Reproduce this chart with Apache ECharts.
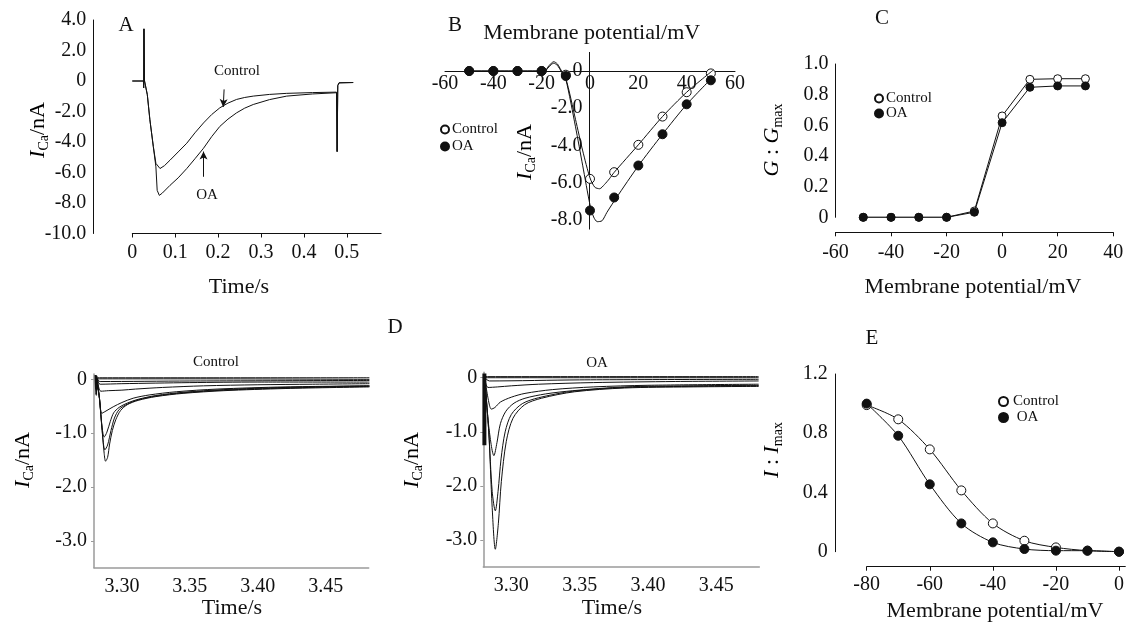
<!DOCTYPE html>
<html>
<head>
<meta charset="utf-8">
<script src="https://cdn.jsdelivr.net/npm/echarts@6.0.0/dist/echarts.min.js"></script>
<style>
  html, body { margin: 0; padding: 0; background: #fff; }
  #chart { width: 1127px; height: 626px; }
</style>
</head>
<body>
<div id="chart"></div>
<script>
// ---- A: current traces (time/s, nA)
var traceA_control = [[0,0],[0.026,0],[0.0265,-0.45],[0.0272,3.42],[0.0285,0],[0.035,-0.9],[0.041,-2.54],[0.049,-4.3],[0.055,-5.4],
  [0.0646,-5.74],[0.075,-5.55],[0.088,-5.19],[0.107,-4.65],[0.127,-4.08],[0.146,-3.4],[0.166,-2.75],[0.185,-2.2],[0.204,-1.76],
  [0.223,-1.45],[0.243,-1.21],[0.262,-1.08],[0.282,-0.99],[0.32,-0.88],[0.36,-0.81],[0.42,-0.76],[0.476,-0.73],
  [0.4775,-4.63],[0.479,-0.3],[0.482,-0.12],[0.515,-0.1]];
var traceA_oa = [[0,0],[0.026,0],[0.0265,-0.45],[0.0272,3.42],[0.0285,0],[0.035,-0.9],[0.041,-2.54],[0.049,-4.3],[0.055,-5.63],
  [0.058,-7.17],[0.063,-7.5],[0.07,-7.35],[0.088,-6.84],[0.107,-6.35],[0.127,-5.74],[0.146,-5.1],[0.166,-4.41],[0.185,-3.65],
  [0.204,-2.98],[0.223,-2.5],[0.243,-2.09],[0.262,-1.78],[0.282,-1.54],[0.32,-1.22],[0.36,-0.99],[0.42,-0.85],[0.476,-0.77],
  [0.4775,-4.63],[0.479,-0.3],[0.482,-0.12],[0.515,-0.1]];
var ticksA_x = [0, 0.1, 0.2, 0.3, 0.4, 0.5];

// ---- B: I-V relation (mV, nA)
var potB = [-50, -40, -30, -20, -10, 0, 10, 20, 30, 40, 50];
var ivControl = [0, 0, 0, 0, -0.2, -5.8, -5.44, -3.97, -2.45, -1.14, -0.13];
var ivOA = [0, 0, 0, 0, -0.27, -7.5, -6.8, -5.08, -3.4, -1.79, -0.5];
var fitB_control = [[-50,0],[-30,0],[-22,0],[-20.5,-0.2],[-19,-0.1],[-17.5,0.15],[-16,0.35],[-15,0.42],[-13.5,0.3],[-12,0.0],
  [-10,-0.4],[-6,-2.6],[-3,-4.3],[0,-5.75],[2,-6.25],[4,-6.33],[6,-6.1],[8,-5.8],[10,-5.45],[20,-3.97],[30,-2.45],[40,-1.14],[51,0.05]];
var fitB_oa = [[-50,0],[-30,0],[-22,0],[-20.5,-0.2],[-19,-0.1],[-17.5,0.2],[-16,0.42],[-15,0.5],[-13.5,0.38],[-12,0.05],
  [-10,-0.45],[-6,-3.0],[-3,-5.1],[0,-7.2],[1.5,-7.85],[3,-8.1],[5,-8.05],[7,-7.6],[11,-6.8],[20,-5.1],[30,-3.4],[40,-1.8],[51,-0.3]];
var ticksB_y = [0, -2, -4, -6, -8];

// ---- C: activation G/Gmax
var potC = [-50, -40, -30, -20, -10, 0, 10, 20, 30];
var gControl = [0, 0, 0, 0, 0.041, 0.661, 0.9, 0.904, 0.904];
var gOA = [0, 0, 0, 0, 0.033, 0.617, 0.848, 0.857, 0.857];

// ---- D: families of currents (s, nA)
var ticksD_x = [3.30, 3.35, 3.40, 3.45];
var ticksD_y = [0, -1, -2, -3];
var dControlArtifact = [[3.2806,0.08],[3.2811,-0.29],[3.2815,0.06],[3.2819,-0.18],[3.2822,0]];
var dControl1 = [[3.2815,0.02],[3.2835,-0.35],[3.2855,-0.95],[3.287,-1.38],[3.288,-1.52],[3.2895,-1.45],[3.291,-1.2],[3.293,-0.95],
  [3.2955,-0.75],[3.299,-0.58],[3.304,-0.47],[3.312,-0.39],[3.325,-0.32],[3.345,-0.26],[3.375,-0.21],[3.42,-0.17],[3.482,-0.14]];
var dControl2 = [[3.2815,0.02],[3.2835,-0.35],[3.2855,-0.95],[3.2875,-1.31],[3.2895,-1.22],[3.292,-0.95],[3.2945,-0.72],[3.298,-0.56],
  [3.304,-0.46],[3.312,-0.38],[3.325,-0.31],[3.345,-0.25],[3.375,-0.2],[3.42,-0.16],[3.482,-0.13]];
var dControl3 = [[3.2815,0.02],[3.2835,-0.35],[3.2855,-0.9],[3.287,-1.07],[3.289,-0.98],[3.2915,-0.78],[3.294,-0.62],[3.298,-0.52],
  [3.304,-0.44],[3.312,-0.37],[3.325,-0.3],[3.345,-0.24],[3.375,-0.19],[3.42,-0.15],[3.482,-0.12]];
var dControl4 = [[3.2815,0.02],[3.2835,-0.35],[3.2852,-0.63],[3.2875,-0.6],[3.2936,-0.51],[3.30,-0.43],[3.3083,-0.35],[3.32,-0.29],
  [3.34,-0.23],[3.37,-0.18],[3.42,-0.14],[3.482,-0.12]];
var dControl5 = [[3.2815,0.02],[3.283,-0.15],[3.2845,-0.22],[3.29,-0.21],[3.30,-0.2],[3.31,-0.18],[3.33,-0.15],[3.36,-0.12],
  [3.40,-0.1],[3.44,-0.09],[3.482,-0.08]];
var dControl6 = [[3.2815,0],[3.284,-0.09],[3.30,-0.08],[3.35,-0.06],[3.40,-0.05],[3.482,-0.05]];
var dControl7 = [[3.2815,0],[3.284,-0.04],[3.35,-0.03],[3.482,-0.02]];
var dControl8 = [[3.2815,0.01],[3.35,0.01],[3.482,0.0]];
var dControl9 = [[3.2815,0.03],[3.35,0.03],[3.482,0.03]];

var dOAArtifact = [[3.2803,0.08],[3.2803,-1.25]];
var dOA1 = [[3.2805,0],[3.2835,-1.0],[3.286,-2.4],[3.2883,-3.17],[3.2905,-2.7],[3.2927,-1.92],[3.2963,-1.18],[3.3012,-0.75],
  [3.3097,-0.5],[3.322,-0.38],[3.3463,-0.26],[3.383,-0.19],[3.43,-0.17],[3.481,-0.16]];
var dOA2 = [[3.2805,0],[3.2835,-1.0],[3.286,-2.1],[3.2883,-2.46],[3.2903,-2.1],[3.2925,-1.5],[3.2955,-1.0],[3.30,-0.68],
  [3.308,-0.48],[3.32,-0.37],[3.345,-0.25],[3.383,-0.18],[3.43,-0.16],[3.481,-0.15]];
var dOA3 = [[3.2805,0],[3.2835,-0.9],[3.2873,-1.44],[3.2895,-1.2],[3.292,-0.85],[3.296,-0.62],[3.302,-0.47],[3.31,-0.38],
  [3.325,-0.3],[3.345,-0.24],[3.383,-0.17],[3.43,-0.15],[3.481,-0.14]];
var dOA4 = [[3.2805,0],[3.2835,-0.45],[3.2854,-0.58],[3.288,-0.55],[3.292,-0.45],[3.30,-0.36],[3.31,-0.29],[3.33,-0.22],
  [3.36,-0.17],[3.40,-0.14],[3.481,-0.12]];
var dOA5 = [[3.2805,0],[3.2829,-0.18],[3.29,-0.17],[3.30,-0.15],[3.32,-0.12],[3.36,-0.09],[3.42,-0.07],[3.481,-0.06]];
var dOA6 = [[3.2805,0],[3.284,-0.06],[3.35,-0.04],[3.481,-0.03]];
var dOA7 = [[3.2805,0],[3.35,0],[3.481,0]];
var dOA8 = [[3.2805,0.02],[3.35,0.02],[3.481,0.02]];

// ---- E: inactivation I/Imax
var potE = [-80, -70, -60, -50, -40, -30, -20, -10, 0];
var iControl = [0.99, 0.894, 0.691, 0.414, 0.191, 0.074, 0.029, 0.007, 0];
var iOA = [1.0, 0.783, 0.455, 0.191, 0.063, 0.018, 0.007, 0.007, 0];
var ticksE_x = [-80, -60, -40, -20, 0];

var SERIF = '"Liberation Serif", "Times New Roman", serif';
var INK = '#111';
var GREY = '#9a9a9a';

function zip(xs, ys) {
  var r = [];
  for (var i = 0; i < xs.length; i++) r.push([xs[i], ys[i]]);
  return r;
}
function fmt1(v) { return v === 0 ? '0' : v.toFixed(1); }

var labelStyle = { fontFamily: SERIF, fontSize: 20, color: INK };
var rich = {
  i: { fontFamily: SERIF, fontStyle: 'italic', fontSize: 22, lineHeight: 26, color: INK },
  r: { fontFamily: SERIF, fontSize: 22, lineHeight: 26, color: INK },
  s: { fontFamily: SERIF, fontSize: 14, lineHeight: 26, verticalAlign: 'bottom', color: INK }
};

function txt(x, y, s, size, rot) {
  return {
    type: 'text', x: x, y: y, rotation: rot || 0, silent: true,
    style: { text: s, fontFamily: SERIF, fontSize: size, fill: INK, align: 'center', verticalAlign: 'middle' }
  };
}
function richTxt(x, y, s, rot) {
  return {
    type: 'text', x: x, y: y, rotation: rot || 0, silent: true,
    style: { text: s, rich: rich, align: 'center', verticalAlign: 'middle' }
  };
}

var openSym = { color: '#fff', borderColor: INK, borderWidth: 1, opacity: 1 };
var fillSym = { color: INK, borderColor: INK, borderWidth: 1, opacity: 1 };
var thin = { color: INK, width: 1 };

function trace(name, data, xi, w) {
  return {
    name: name, type: 'line', xAxisIndex: xi, yAxisIndex: xi, data: data,
    showSymbol: false, smooth: 0.3, silent: true,
    lineStyle: { color: INK, width: w || 1 }
  };
}

var chart = echarts.init(document.getElementById('chart'), null, { renderer: 'canvas' });

var axisBase = function (gi) {
  return {
    type: 'value', gridIndex: gi, splitLine: { show: false },
    axisLine: { onZero: false, lineStyle: { color: INK, width: 1 } },
    axisLabel: labelStyle
  };
};

var option = {
  animation: false,
  backgroundColor: '#fff',
  grid: [
    { left: 132.3, top: 20, width: 248.8, height: 213.5 },
    { left: 445, top: 52.4, width: 290, height: 176.7 },
    { left: 835.5, top: 64, width: 277.7, height: 153.3 },
    { left: 94, top: 374, width: 274.7, height: 193.7 },
    { left: 483.3, top: 372.3, width: 276, height: 194.8 },
    { left: 866.7, top: 374, width: 259.7, height: 177.7 }
  ],
  xAxis: [
    Object.assign(axisBase(0), {
      min: 0, max: 0.58,
      axisTick: { show: true, length: 4, customValues: ticksA_x, lineStyle: { color: INK } },
      axisLabel: Object.assign({}, labelStyle, { margin: 9, customValues: ticksA_x, formatter: fmt1 })
    }),
    Object.assign(axisBase(1), {
      min: -60, max: 60, interval: 20, offset: -158.1,
      axisTick: { show: false },
      axisLabel: Object.assign({}, labelStyle, { margin: 3 })
    }),
    Object.assign(axisBase(2), {
      min: -60, max: 40, interval: 20, offset: 15,
      axisTick: { show: true, length: 4, lineStyle: { color: INK } },
      axisLabel: Object.assign({}, labelStyle, { margin: 10 })
    }),
    Object.assign(axisBase(3), {
      min: 3.2795, max: 3.4815,
      axisLine: { onZero: false, lineStyle: { color: GREY, width: 1.5 } },
      axisTick: { show: false },
      axisLabel: Object.assign({}, labelStyle, { margin: 9, customValues: ticksD_x, formatter: function (v) { return v.toFixed(2); } })
    }),
    Object.assign(axisBase(4), {
      min: 3.2795, max: 3.4815,
      axisLine: { onZero: false, lineStyle: { color: GREY, width: 1.5 } },
      axisTick: { show: false },
      axisLabel: Object.assign({}, labelStyle, { margin: 9, customValues: ticksD_x, formatter: function (v) { return v.toFixed(2); } })
    }),
    Object.assign(axisBase(5), {
      min: -80, max: 2, offset: 15,
      axisTick: { show: true, length: 4, customValues: ticksE_x, lineStyle: { color: INK } },
      axisLabel: Object.assign({}, labelStyle, { margin: 8, customValues: ticksE_x })
    })
  ],
  yAxis: [
    Object.assign(axisBase(0), {
      min: -10, max: 4, interval: 2, offset: 39,
      axisTick: { show: false },
      axisLabel: Object.assign({}, labelStyle, { margin: 7, formatter: fmt1 })
    }),
    Object.assign(axisBase(1), {
      min: -8.5, max: 1, offset: -144.5,
      axisTick: { show: false },
      axisLabel: Object.assign({}, labelStyle, { margin: 7, customValues: ticksB_y, formatter: fmt1 })
    }),
    Object.assign(axisBase(2), {
      min: 0, max: 1, interval: 0.2,
      axisTick: { show: false },
      axisLabel: Object.assign({}, labelStyle, { margin: 7, formatter: fmt1 })
    }),
    Object.assign(axisBase(3), {
      min: -3.5, max: 0.1,
      axisLine: { onZero: false, lineStyle: { color: GREY, width: 1.5 } },
      axisTick: { show: true, length: 3, customValues: ticksD_y, lineStyle: { color: GREY } },
      axisLabel: Object.assign({}, labelStyle, { margin: 7, customValues: ticksD_y, formatter: fmt1 })
    }),
    Object.assign(axisBase(4), {
      min: -3.5, max: 0.1,
      axisLine: { onZero: false, lineStyle: { color: GREY, width: 1.5 } },
      axisTick: { show: true, length: 3, customValues: ticksD_y, lineStyle: { color: GREY } },
      axisLabel: Object.assign({}, labelStyle, { margin: 6, customValues: ticksD_y, formatter: fmt1 })
    }),
    Object.assign(axisBase(5), {
      min: 0, max: 1.2, interval: 0.4, offset: 31,
      axisTick: { show: false },
      axisLabel: Object.assign({}, labelStyle, { margin: 8, formatter: fmt1 })
    })
  ],
  legend: [
    { left: 435, top: 117, orient: 'vertical', itemGap: 2, itemWidth: 8, itemHeight: 8, icon: 'circle', selectedMode: false,
      textStyle: { fontFamily: SERIF, fontSize: 15, color: INK, lineHeight: 15, padding: [0, 0, 0, -2] }, data: ['Control', 'OA'] },
    { left: 869, top: 86, orient: 'vertical', itemGap: 0, itemWidth: 8, itemHeight: 8, icon: 'circle', selectedMode: false,
      textStyle: { fontFamily: SERIF, fontSize: 15, color: INK, lineHeight: 15, padding: [0, 0, 0, -2] }, data: ['Control', 'OA'] },
    { left: 993, top: 389, orient: 'vertical', itemGap: 1, itemWidth: 9, itemHeight: 9, icon: 'circle', selectedMode: false,
      formatter: function (n) { return n === 'OA' ? ' OA' : n; },
      textStyle: { fontFamily: SERIF, fontSize: 15, color: INK, lineHeight: 15 }, data: ['Control', 'OA'] }
  ],
  series: [
    // A
    {
      name: 'Control trace', type: 'line', xAxisIndex: 0, yAxisIndex: 0, data: traceA_control,
      showSymbol: false, silent: true, lineStyle: thin,
      markLine: {
        silent: true, symbol: ['none', 'arrow'], symbolSize: [6, 8], label: { show: false },
        lineStyle: { color: INK, width: 1, type: 'solid' },
        data: [
          [{ coord: [0.214, -0.55] }, { coord: [0.212, -1.7] }],
          [{ coord: [0.166, -6.28] }, { coord: [0.166, -4.63] }]
        ]
      }
    },
    { name: 'OA trace', type: 'line', xAxisIndex: 0, yAxisIndex: 0, data: traceA_oa, showSymbol: false, silent: true, lineStyle: thin },
    // B
    { name: 'Control fit', type: 'line', xAxisIndex: 1, yAxisIndex: 1, data: fitB_control, showSymbol: false, smooth: 0.25, silent: true, lineStyle: thin },
    { name: 'OA fit', type: 'line', xAxisIndex: 1, yAxisIndex: 1, data: fitB_oa, showSymbol: false, smooth: 0.25, silent: true, lineStyle: thin },
    { name: 'Control', type: 'scatter', xAxisIndex: 1, yAxisIndex: 1, data: zip(potB, ivControl), symbol: 'circle', symbolSize: 9, itemStyle: openSym },
    { name: 'OA', type: 'scatter', xAxisIndex: 1, yAxisIndex: 1, data: zip(potB, ivOA), symbol: 'circle', symbolSize: 9, itemStyle: fillSym },
    // C
    { name: 'Control', type: 'line', xAxisIndex: 2, yAxisIndex: 2, data: zip(potC, gControl), symbol: 'circle', symbolSize: 8, showAllSymbol: true, itemStyle: openSym, lineStyle: thin },
    { name: 'OA', type: 'line', xAxisIndex: 2, yAxisIndex: 2, data: zip(potC, gOA), symbol: 'circle', symbolSize: 8, showAllSymbol: true, itemStyle: fillSym, lineStyle: thin },
    // D control
    trace('Control artifact', dControlArtifact, 3, 2),
    trace('Control 1', dControl1, 3), trace('Control 2', dControl2, 3), trace('Control 3', dControl3, 3),
    trace('Control 4', dControl4, 3), trace('Control 5', dControl5, 3), trace('Control 6', dControl6, 3),
    trace('Control 7', dControl7, 3), trace('Control 8', dControl8, 3), trace('Control 9', dControl9, 3),
    // D OA
    trace('OA artifact', dOAArtifact, 4, 4),
    trace('OA 1', dOA1, 4), trace('OA 2', dOA2, 4), trace('OA 3', dOA3, 4), trace('OA 4', dOA4, 4),
    trace('OA 5', dOA5, 4), trace('OA 6', dOA6, 4), trace('OA 7', dOA7, 4), trace('OA 8', dOA8, 4),
    // E
    { name: 'Control', type: 'line', xAxisIndex: 5, yAxisIndex: 5, data: zip(potE, iControl), symbol: 'circle', symbolSize: 9, smooth: 0.3, showAllSymbol: true, itemStyle: openSym, lineStyle: thin },
    { name: 'OA', type: 'line', xAxisIndex: 5, yAxisIndex: 5, data: zip(potE, iOA), symbol: 'circle', symbolSize: 9, smooth: 0.3, showAllSymbol: true, itemStyle: fillSym, lineStyle: thin }
  ],
  graphic: [
    txt(126, 25, 'A', 21), txt(455, 25, 'B', 21), txt(882, 18, 'C', 21), txt(395, 327, 'D', 21), txt(872, 338, 'E', 21),
    txt(237, 71, 'Control', 15), txt(207, 195, 'OA', 15),
    txt(216, 362, 'Control', 15), txt(597, 363, 'OA', 15),
    txt(591.7, 33, 'Membrane potential/mV', 22),
    txt(239, 287, 'Time/s', 22),
    txt(973, 287, 'Membrane potential/mV', 22),
    txt(232, 608, 'Time/s', 22), txt(612, 608, 'Time/s', 22),
    txt(995, 611, 'Membrane potential/mV', 22),
    richTxt(38, 130, '{i|I}{s|Ca}{r|/nA}', Math.PI / 2),
    richTxt(525, 152, '{i|I}{s|Ca}{r|/nA}', Math.PI / 2),
    richTxt(23, 460, '{i|I}{s|Ca}{r|/nA}', Math.PI / 2),
    richTxt(412, 460, '{i|I}{s|Ca}{r|/nA}', Math.PI / 2),
    richTxt(772, 140, '{i|G}{r| : }{i|G}{s|max}', Math.PI / 2),
    richTxt(772, 450, '{i|I}{r| : }{i|I}{s|max}', Math.PI / 2)
  ]
};

chart.setOption(option);
window.addEventListener('resize', function () { chart.resize(); });
</script>
</body>
</html>
